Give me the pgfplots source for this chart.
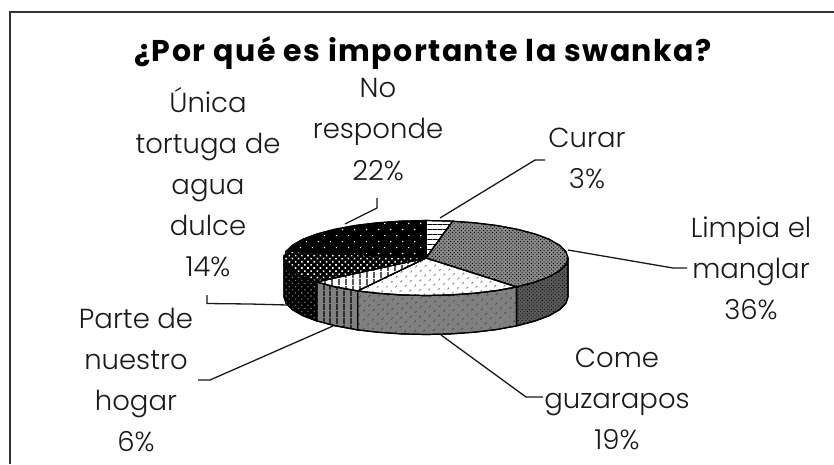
\documentclass[border=0pt]{standalone}
\usepackage{fontspec}
\setmainfont{Poppins}
\newfontfamily\lightfont{Poppins Light}
\usepackage{pgfplots}
\pgfplotsset{compat=1.18}
\usetikzlibrary{patterns.meta}

\newcommand{\lbl}[3]{\node[anchor=base,font=\lightfont\fontsize{27.5}{27.5}\selectfont,text=black!90,inner sep=0pt] at (axis cs:#1,#2) {#3};}

\begin{document}
\begin{tikzpicture}
\useasboundingbox (0,0) rectangle (834pt,464pt);
\begin{axis}[
    at={(0,0)}, anchor=south west,
    width=834pt, height=464pt, scale only axis,
    xmin=0, xmax=834, ymin=0, ymax=464, y dir=reverse,
    hide axis, clip=false,
    every axis plot/.append style={line width=1.2pt},
]
% frame, outlines are in picture pixels with y running downwards
\addplot[black!80, line width=1.8pt] coordinates {(10,464) (10,12) (834,12)};

% side walls
\addplot[draw=black, fill=black!65, postaction={pattern={Dots[radius=.6pt,distance=2.6pt,angle=45]},pattern color=black}] coordinates {
 (568,258) (565.8,264.5) (559.4,270.8) (549,276.8) (534.8,282.1) (516.5,286.9)
 (516.5,325.9) (534.8,321.1) (549,315.8) (559.4,309.8) (565.8,303.5) (568,297) (568,258)};
\addplot[draw=black, fill=black!50, postaction={pattern={Dots[radius=.8pt,distance=6.4pt,angle=45]},pattern color=black}] coordinates {
 (516.5,286.9) (497,290.5) (474.6,293.2) (450.7,294.9) (426,295.5) (401.3,294.9) (377.4,293.2) (357.6,290.9)
 (357.6,329.9) (377.4,332.2) (401.3,333.9) (426,334.5) (450.7,333.9) (474.6,332.2) (497,329.5) (516.5,325.9) (516.5,286.9)};
\addplot[draw=black, fill=black!50, postaction={pattern={Lines[angle=90,distance=6.5pt,line width=1.4pt]},pattern color=black}] coordinates {
 (357.6,290.9) (334.7,286.7) (316.6,281.9) (316.6,320.9) (334.7,325.7) (357.6,329.9) (357.6,290.9)};
\addplot[draw=black, fill=black, postaction={pattern={Dots[radius=.9pt,distance=4.4pt,angle=45]},pattern color=black!55}] coordinates {
 (316.6,281.9) (303,276.8) (292.6,270.8) (286.2,264.5) (284,258) (284,297) (286.2,303.5) (292.6,309.8) (303,315.8) (316.6,320.9) (316.6,281.9)};

% top slices, clockwise from twelve o'clock
\addplot[draw=black, fill=white, postaction={pattern={Lines[angle=0,distance=5pt,line width=1pt]},pattern color=black}] coordinates {
 (426,258) (426,220.5) (450.7,221.1) (452.6,221.2) (426,258)};
\addplot[draw=black, fill=black!45, postaction={pattern={Dots[radius=.7pt,distance=2.6pt,angle=45]},pattern color=black}] coordinates {
 (426,258) (452.6,221.2) (474.6,222.8) (497,225.5) (517.3,229.3) (534.8,233.9) (549,239.2) (559.4,245.2) (565.8,251.5) (568,258)
 (565.8,264.5) (559.4,270.8) (549,276.8) (534.8,282.1) (516.5,286.9) (426,258)};
\addplot[draw=black, fill=white, postaction={pattern={Dots[radius=.8pt,distance=6.4pt,angle=45]},pattern color=black}] coordinates {
 (426,258) (516.5,286.9) (497,290.5) (474.6,293.2) (450.7,294.9) (426,295.5) (401.3,294.9) (377.4,293.2) (357.6,290.9) (426,258)};
\addplot[draw=black, fill=white, postaction={pattern={Lines[angle=90,distance=6.5pt,line width=1.4pt]},pattern color=black}] coordinates {
 (426,258) (357.6,290.9) (334.7,286.7) (316.6,281.9) (426,258)};
\addplot[draw=black, fill=black, postaction={pattern={Dots[radius=1.1pt,distance=4.4pt,angle=45]},pattern color=white}] coordinates {
 (426,258) (316.6,281.9) (303,276.8) (292.6,270.8) (286.2,264.5) (284,258) (286.5,251) (426,258)};
\addplot[draw=black, fill=black, postaction={pattern={Dots[radius=.85pt,distance=8.5pt,angle=45]},pattern color=white}] coordinates {
 (426,258) (286.5,251) (292.6,245.2) (303,239.2) (317.2,233.9) (334.7,229.3) (355,225.5) (377.4,222.8) (401.3,221.1) (426,220.5) (426,258)};

% leader lines
\addplot[black!90, line width=1.3pt] coordinates {(440,218) (535,160) (545,160)};
\addplot[black!90, line width=1.3pt] coordinates {(568,250) (673,268) (687,268)};
\addplot[black!90, line width=1.3pt] coordinates {(441,335) (526,397) (543,397)};
\addplot[black!90, line width=1.3pt] coordinates {(333,326) (210,380) (198,380)};
\addplot[black!90, line width=1.3pt] coordinates {(207,295) (207,303.5) (250,304) (287,305)};
\addplot[black!90, line width=1.3pt] coordinates {(377,198) (377,208) (345,224)};

% labels
\lbl{208}{112}{Única}
\lbl{208}{153}{tortuga de}
\lbl{208}{194}{agua}
\lbl{208}{235}{dulce}
\lbl{208}{276}{14\%}
\lbl{378}{97}{No}
\lbl{378}{138}{responde}
\lbl{378}{180}{22\%}
\lbl{587}{147}{Curar}
\lbl{587}{188}{3\%}
\lbl{751}{237}{Limpia el}
\lbl{751}{278}{manglar}
\lbl{751}{319}{36\%}
\lbl{617}{367}{Come}
\lbl{617}{408}{guzarapos}
\lbl{617}{449}{19\%}
\lbl{136}{328}{Parte de}
\lbl{136}{369}{nuestro}
\lbl{136}{410}{hogar}
\lbl{136}{451}{6\%}
\node[anchor=base,font=\bfseries\fontsize{30}{30}\selectfont\addfontfeatures{LetterSpace=5},inner sep=0pt] at (axis cs:423,61) {¿Por qué es importante la swanka?};
\end{axis}
\end{tikzpicture}
\end{document}
